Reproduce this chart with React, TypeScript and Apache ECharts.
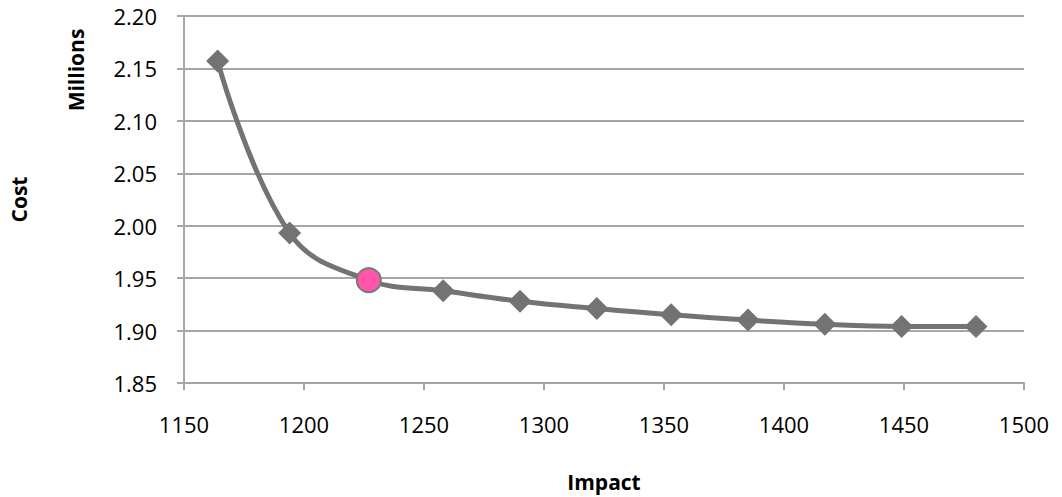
import React, { useEffect, useRef } from "react";
import * as echarts from "echarts";

// Impact (x) vs cost in millions (y) along the trade-off curve
const impact: number[] = [1164, 1194, 1227, 1258, 1290, 1322, 1353, 1385, 1417, 1449, 1480];
const costMillions: number[] = [2.157, 1.993, 1.948, 1.938, 1.928, 1.921, 1.915, 1.910, 1.906, 1.904, 1.904];
// Point drawn as a pink circle instead of a diamond
const selectedIndex = 2;

const xTicks = { min: 1150, max: 1500, step: 50 };
const yTicks = { min: 1.85, max: 2.2, step: 0.05 };

const LINE_GRAY = "#737373";
const GRID_GRAY = "#A6A6A6";
const FONT = "'Open Sans', 'Noto Sans', sans-serif";

export default function App() {
  const ref = useRef<HTMLDivElement>(null);

  useEffect(() => {
    if (!ref.current) return;
    const chart = echarts.init(ref.current, undefined, { renderer: "svg" });

    const data = impact.map((x, i) => {
      if (i === selectedIndex) {
        return {
          value: [x, costMillions[i]],
          symbol: "circle",
          symbolSize: 24,
          itemStyle: { color: "#FF55AA", borderColor: "#7a7a7a", borderWidth: 2 },
        };
      }
      return { value: [x, costMillions[i]] };
    });

    chart.setOption({
      animation: false,
      backgroundColor: "#ffffff",
      textStyle: { fontFamily: FONT },
      grid: { left: 182, right: 38, top: 16, bottom: 113, containLabel: false },
      xAxis: {
        type: "value",
        min: xTicks.min,
        max: xTicks.max,
        interval: xTicks.step,
        name: "Impact",
        nameLocation: "middle",
        nameGap: 88,
        nameTextStyle: { fontFamily: FONT, fontSize: 21, fontWeight: "bold", color: "#000" },
        axisLine: { show: true, lineStyle: { color: GRID_GRAY, width: 2 } },
        axisTick: { show: true, length: 7, inside: false, lineStyle: { color: GRID_GRAY, width: 2 } },
        axisLabel: {
          fontFamily: FONT,
          fontSize: 22,
          color: "#000",
          margin: 30,
          formatter: (v: number) => String(v),
        },
        splitLine: { show: false },
      },
      yAxis: {
        type: "value",
        min: yTicks.min,
        max: yTicks.max,
        interval: yTicks.step,
        name: "Cost",
        nameLocation: "middle",
        nameRotate: 90,
        nameGap: 155,
        nameTextStyle: { fontFamily: FONT, fontSize: 21, fontWeight: "bold", color: "#000" },
        axisLine: { show: true, lineStyle: { color: GRID_GRAY, width: 2 } },
        axisTick: { show: true, length: 7, inside: false, lineStyle: { color: GRID_GRAY, width: 2 } },
        axisLabel: {
          fontFamily: FONT,
          fontSize: 22,
          color: "#000",
          margin: 27,
          formatter: (v: number) => v.toFixed(2),
        },
        splitLine: { show: true, lineStyle: { color: GRID_GRAY, width: 2 } },
      },
      graphic: [
        {
          type: "text",
          x: 76,
          y: 70,
          rotation: Math.PI / 2,
          style: {
            text: "Millions",
            fontFamily: FONT,
            fontSize: 21,
            fontWeight: "bold",
            fill: "#000",
            align: "center",
            verticalAlign: "middle",
          },
        },
      ],
      series: [
        {
          type: "line",
          data,
          smooth: 0.4,
          symbol: "diamond",
          symbolSize: 23,
          lineStyle: { color: LINE_GRAY, width: 5 },
          itemStyle: { color: LINE_GRAY },
          z: 3,
        },
      ],
    });

    return () => chart.dispose();
  }, []);

  return (
    <div
      ref={ref}
      style={{ position: "fixed", left: 0, top: 0, width: 1062, height: 497 }}
    />
  );
}
